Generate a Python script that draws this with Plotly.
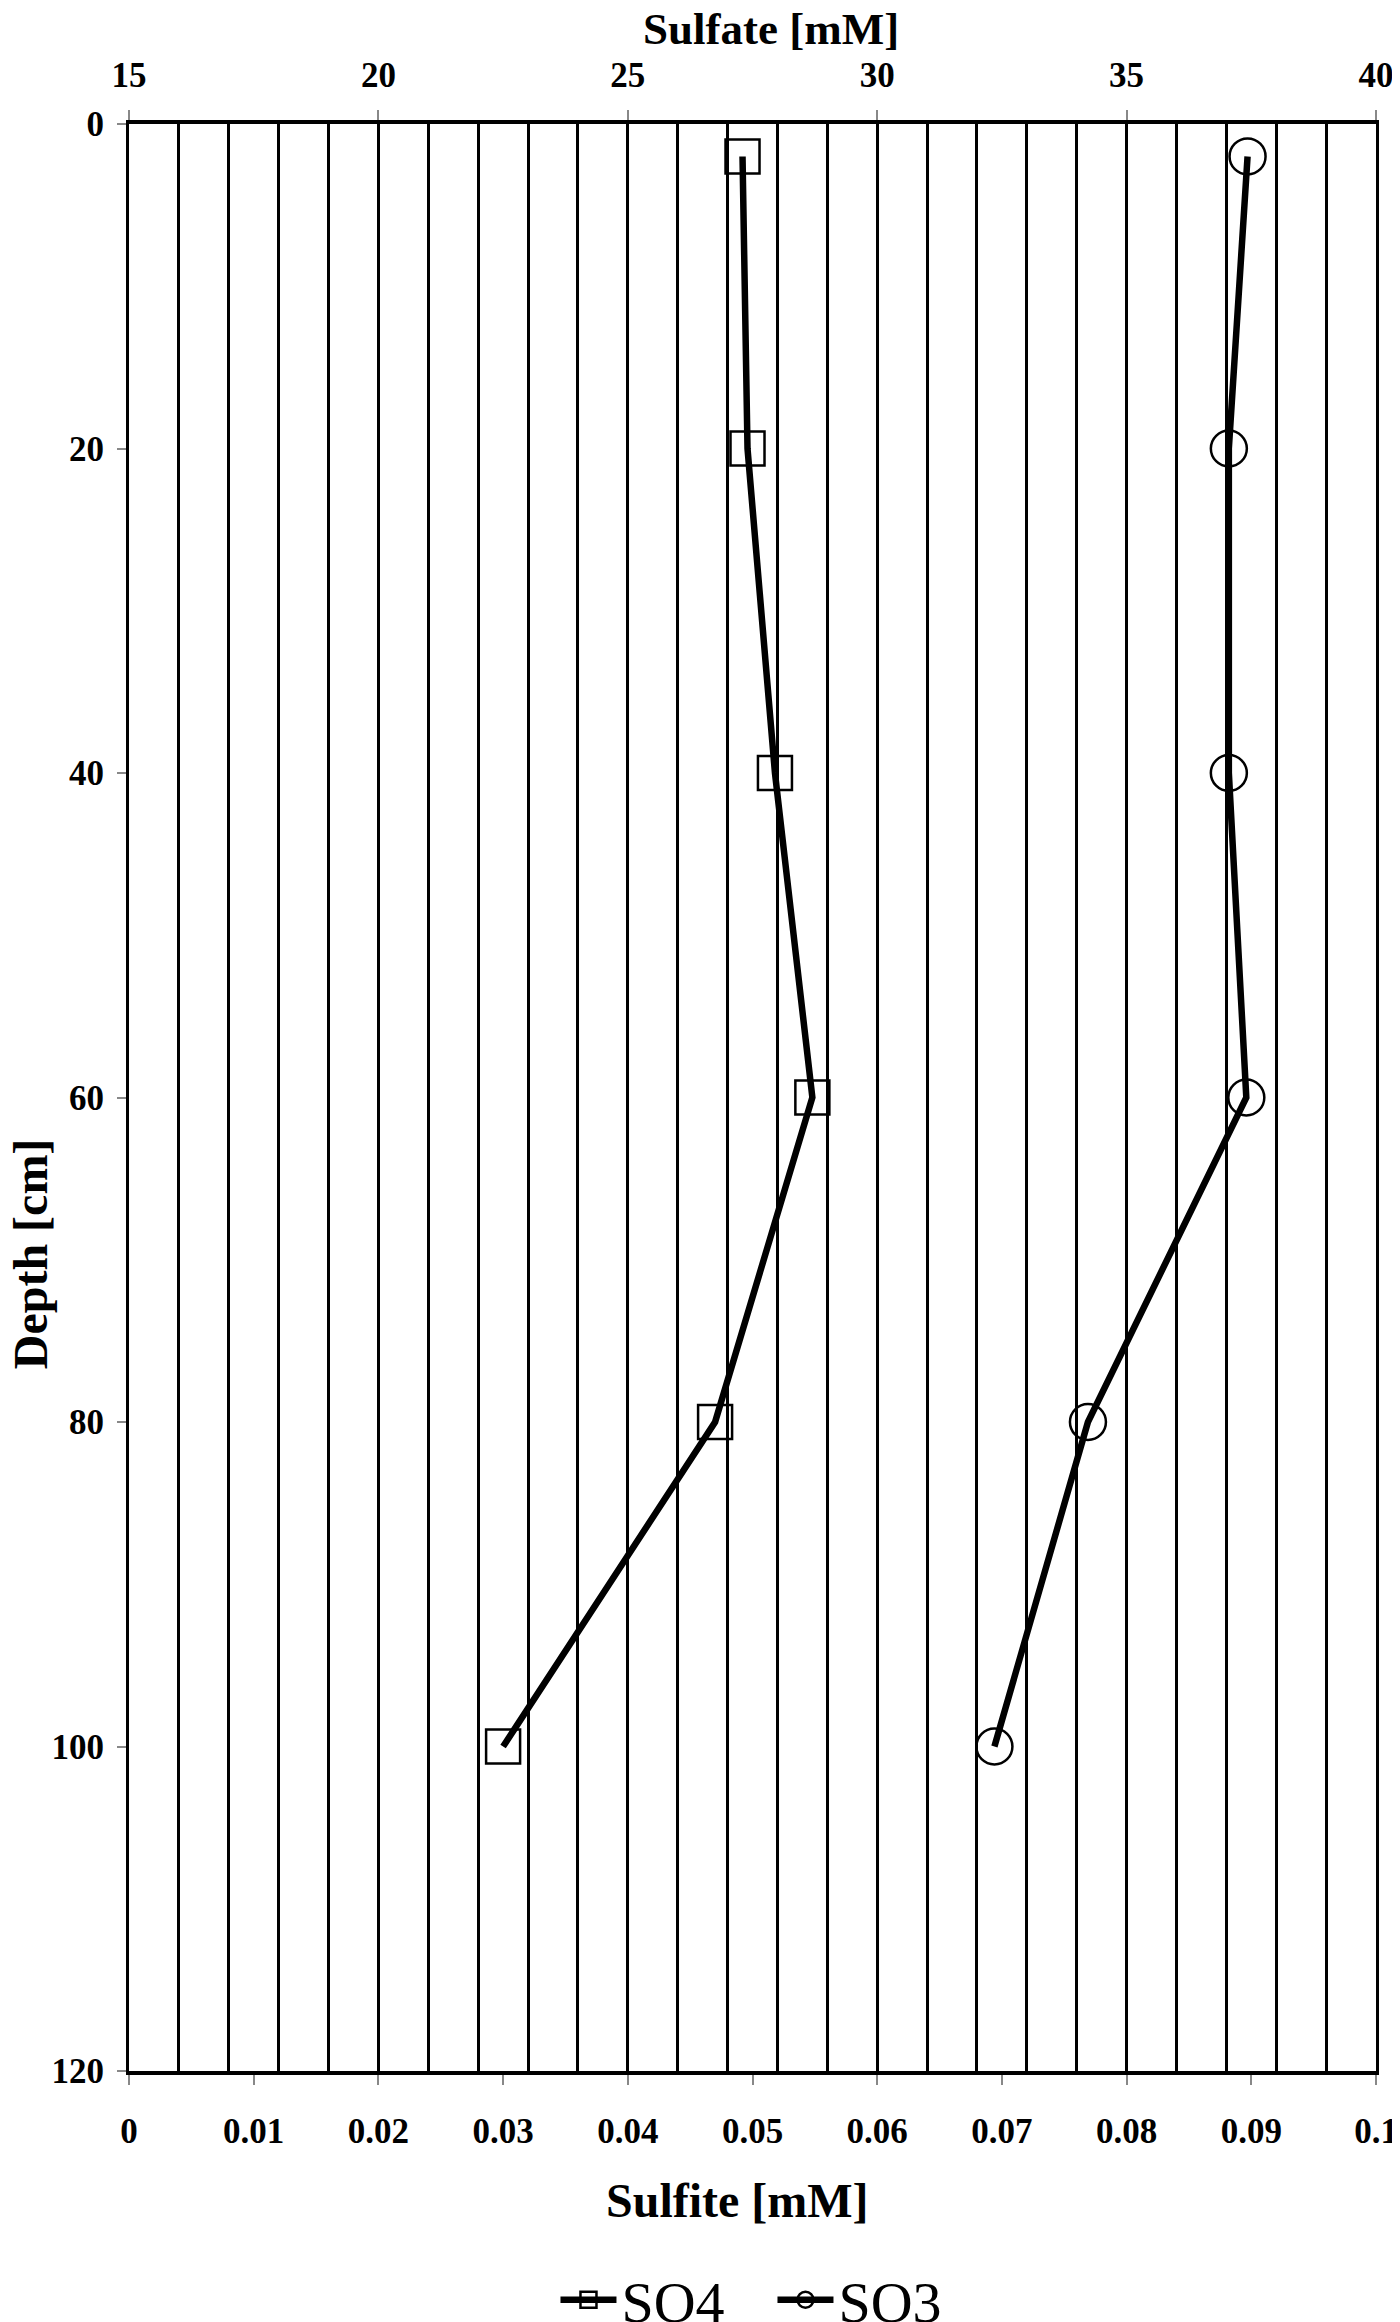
import plotly.graph_objects as go

# depth profile values
depth_cm = [2, 20, 40, 60, 80, 100]
sulfate_mM = [27.3, 27.4, 27.95, 28.7, 26.75, 22.5]
sulfite_mM = [0.0897, 0.0882, 0.0882, 0.0896, 0.0769, 0.0694]

sulfate_ticks = [15, 20, 25, 30, 35, 40]
sulfite_ticks = [0, 0.01, 0.02, 0.03, 0.04, 0.05, 0.06, 0.07, 0.08, 0.09, 0.1]
sulfite_labels = ["0", "0.01", "0.02", "0.03", "0.04", "0.05", "0.06", "0.07", "0.08", "0.09", "0.1"]
depth_ticks = [0, 20, 40, 60, 80, 100, 120]

FONT = "Liberation Serif"
tickfont = dict(family=FONT, size=35, color="black", weight="bold")

fig = go.Figure()
fig.add_trace(go.Scatter(
    x=sulfate_mM, y=depth_cm, name="SO4", xaxis="x2", yaxis="y",
    mode="lines+markers",
    line=dict(color="black", width=6.5),
    marker=dict(symbol="square-open", size=34, color="black", line=dict(width=2.5)),
))
fig.add_trace(go.Scatter(
    x=sulfite_mM, y=depth_cm, name="SO3", xaxis="x", yaxis="y",
    mode="lines+markers",
    line=dict(color="black", width=6.5),
    marker=dict(symbol="circle-open", size=36, color="black", line=dict(width=2.5)),
))

# page body has an 8px margin, so the figure is a bit smaller than the window
fig.update_layout(
    width=1392, height=2314,
    margin=dict(l=121, r=24, t=116, b=251, autoexpand=False),
    paper_bgcolor="white", plot_bgcolor="white",
    font=dict(family=FONT, color="black"),
    showlegend=True,
    legend=dict(
        orientation="h", x=0.342, xanchor="left", y=-0.1176, yanchor="middle",
        font=dict(family=FONT, size=58, color="black"),
        itemwidth=56, entrywidth=146, entrywidthmode="pixels",
        bgcolor="rgba(0,0,0,0)",
    ),
    xaxis=dict(
        range=[0, 0.1], tickvals=sulfite_ticks, ticktext=sulfite_labels,
        side="bottom", showgrid=False, zeroline=False,
        showline=True, linecolor="black", linewidth=4,
        ticks="outside", ticklen=10, tickwidth=2, tickcolor="#888",
        tickfont=tickfont, ticklabelstandoff=16, automargin=False,
    ),
    xaxis2=dict(
        range=[15, 40], tickvals=sulfate_ticks, overlaying="x", side="top",
        showgrid=True, gridcolor="black", gridwidth=2.5, zeroline=False,
        minor=dict(dtick=1, showgrid=True, gridcolor="black", gridwidth=2.5, ticks=""),
        showline=True, linecolor="black", linewidth=4,
        ticks="outside", ticklen=10, tickwidth=2, tickcolor="#888",
        tickfont=tickfont, ticklabelstandoff=9, automargin=False,
    ),
    yaxis=dict(
        range=[120, 0], tickvals=depth_ticks, showgrid=False, zeroline=False,
        showline=True, linecolor="black", linewidth=3, mirror=True,
        ticks="outside", ticklen=9, tickwidth=2, tickcolor="#888",
        tickfont=tickfont, ticklabelstandoff=6, automargin=False,
    ),
)

title_font = dict(family=FONT, size=45, color="black", weight="bold")
fig.add_annotation(text="Sulfate [mM]", xref="paper", yref="paper", x=0.515, y=1.0488,
                   showarrow=False, font=title_font, xanchor="center", yanchor="middle")
fig.add_annotation(text="Sulfite [mM]", xref="paper", yref="paper", x=0.488, y=-0.0663,
                   showarrow=False, font=dict(title_font, size=48),
                   xanchor="center", yanchor="middle")
fig.add_annotation(text="Depth [cm]", xref="paper", yref="paper", x=-0.0794, y=0.42,
                   showarrow=False, font=dict(title_font, size=48), textangle=-90,
                   xanchor="center", yanchor="middle")

fig.write_html("out.html")
